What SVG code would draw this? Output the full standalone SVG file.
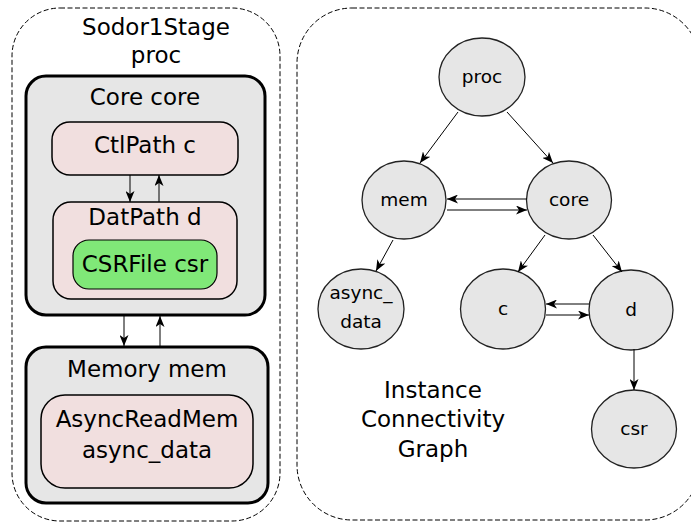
<svg xmlns="http://www.w3.org/2000/svg" width="691" height="523" viewBox="0 0 691 523">
<defs>
<marker id="ah" viewBox="0 0 11 9" refX="11" refY="4.5" markerWidth="11" markerHeight="9" markerUnits="userSpaceOnUse" orient="auto">
<path d="M0,0 L11,4.5 L0,9 L3,4.5 Z" fill="#000"/>
</marker>
</defs>
<style>
text{font-family:"DejaVu Sans","Liberation Sans",sans-serif;fill:#000;text-anchor:middle}
.big{font-size:23px}
.sm{font-size:18.5px}
.dash{fill:none;stroke:#000;stroke-width:1;stroke-dasharray:5,2.5}
.mod{fill:#e6e6e6;stroke:#000;stroke-width:3}
.sub{fill:#f1dfdf;stroke:#000;stroke-width:1.5}
.grn{fill:#80e878;stroke:#000;stroke-width:1.2}
.nd{fill:#e6e6e6;stroke:#222;stroke-width:1.3}
.e{fill:none;stroke:#000;stroke-width:1;marker-end:url(#ah)}
</style>
<g id="hierarchy">
<rect class="dash" x="12" y="8" width="268" height="513" rx="48"/>
<text class="big" x="156" y="35">Sodor1Stage</text>
<text class="big" x="156" y="63">proc</text>
</g>
<g id="core-box">
<rect class="mod" x="26" y="76" width="239" height="239" rx="20"/>
<text class="big" x="145" y="105">Core core</text>
</g>
<g id="ctlpath-box">
<rect class="sub" x="52" y="122" width="186" height="53" rx="18"/>
<text class="big" x="145" y="153">CtlPath c</text>
</g>
<g id="datpath-box">
<rect class="sub" x="53" y="202" width="184" height="97" rx="18"/>
<text class="big" x="145" y="225">DatPath d</text>
</g>
<g id="csr-box">
<rect class="grn" x="73" y="240" width="144" height="49" rx="16"/>
<text class="big" x="145" y="272">CSRFile csr</text>
</g>
<g id="memory-box">
<rect class="mod" x="26" y="347" width="242" height="156" rx="20"/>
<text class="big" x="147" y="377">Memory mem</text>
</g>
<g id="asyncmem-box">
<rect class="sub" x="41" y="395" width="212" height="93" rx="24"/>
<text class="big" x="147" y="427">AsyncReadMem</text>
<text class="big" x="147" y="458">async_data</text>
</g>
<g id="graph-frame">
<rect class="dash" x="297" y="8" width="403" height="512" rx="55"/>
<text class="big" x="433" y="398">Instance</text>
<text class="big" x="433" y="427">Connectivity</text>
<text class="big" x="433" y="457">Graph</text>
</g>
<g id="n-proc"><ellipse class="nd" cx="482" cy="77" rx="43" ry="39"/><text class="sm" x="482" y="83">proc</text></g>
<g id="n-mem"><ellipse class="nd" cx="404" cy="200" rx="42" ry="39"/><text class="sm" x="404" y="206">mem</text></g>
<g id="n-core"><ellipse class="nd" cx="569" cy="200" rx="42.5" ry="39"/><text class="sm" x="569" y="206">core</text></g>
<g id="n-async"><ellipse class="nd" cx="361" cy="309" rx="43" ry="40"/><text class="sm" x="361" y="299">async_</text><text class="sm" x="361" y="328">data</text></g>
<g id="n-c"><ellipse class="nd" cx="503" cy="309" rx="42.5" ry="40"/><text class="sm" x="503" y="315">c</text></g>
<g id="n-d"><ellipse class="nd" cx="631" cy="310" rx="42" ry="40"/><text class="sm" x="631" y="316">d</text></g>
<g id="n-csr"><ellipse class="nd" cx="634" cy="429" rx="42.5" ry="39"/><text class="sm" x="634" y="435">csr</text></g>
<g id="connectors">
<line class="e" x1="130" y1="175" x2="130" y2="202"/>
<line class="e" x1="159" y1="202" x2="159" y2="175"/>
<line class="e" x1="124" y1="316" x2="124" y2="346"/>
<line class="e" x1="160" y1="346" x2="160" y2="316"/>
<line class="e" x1="458" y1="112" x2="420" y2="163"/>
<line class="e" x1="507" y1="112" x2="553" y2="163"/>
<line class="e" x1="527" y1="199" x2="447" y2="199"/>
<line class="e" x1="447" y1="210" x2="527" y2="210"/>
<line class="e" x1="393" y1="240" x2="376" y2="271"/>
<line class="e" x1="545" y1="235" x2="518" y2="272"/>
<line class="e" x1="593" y1="235" x2="622" y2="272"/>
<line class="e" x1="589" y1="304" x2="546" y2="304"/>
<line class="e" x1="546" y1="315" x2="589" y2="315"/>
<line class="e" x1="634" y1="349" x2="634" y2="390"/>
</g>
</svg>
